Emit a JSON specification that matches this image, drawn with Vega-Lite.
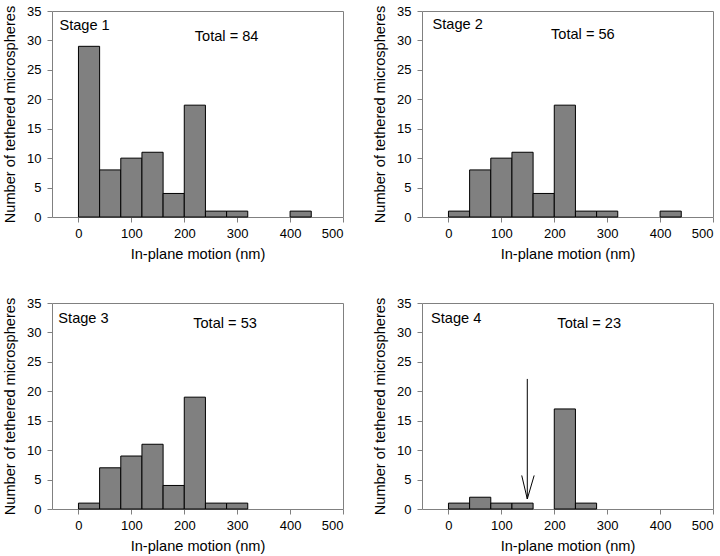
{
  "$schema": "https://vega.github.io/schema/vega-lite/v6.json",
  "padding": {"left": 2, "top": 4, "right": 5, "bottom": 5},
  "background": "white",
  "config": {
    "font": "Liberation Sans",
    "view": {"stroke": "#808080", "strokeWidth": 1},
    "axis": {"grid": false, "domain": false, "tickColor": "#808080", "tickSize": 5, "labelFontSize": 13, "labelColor": "black", "titleFontSize": 14.6, "titleFontWeight": "normal", "titleColor": "black", "labelFont": "Liberation Sans", "titleFont": "Liberation Sans", "labelOverlap": false},
    "axisY": {"titlePadding": 9, "labelPadding": 6},
    "axisX": {"titlePadding": 6, "labelPadding": 5},
    "text": {"font": "Liberation Sans", "fontSize": 14.6, "color": "black"}
  },
  "datasets": {
    "bars": [
      {"stage": 1, "lo": 0, "hi": 40, "count": 29},
      {"stage": 1, "lo": 40, "hi": 80, "count": 8},
      {"stage": 1, "lo": 80, "hi": 120, "count": 10},
      {"stage": 1, "lo": 120, "hi": 160, "count": 11},
      {"stage": 1, "lo": 160, "hi": 200, "count": 4},
      {"stage": 1, "lo": 200, "hi": 240, "count": 19},
      {"stage": 1, "lo": 240, "hi": 280, "count": 1},
      {"stage": 1, "lo": 280, "hi": 320, "count": 1},
      {"stage": 1, "lo": 400, "hi": 440, "count": 1},
      {"stage": 2, "lo": 0, "hi": 40, "count": 1},
      {"stage": 2, "lo": 40, "hi": 80, "count": 8},
      {"stage": 2, "lo": 80, "hi": 120, "count": 10},
      {"stage": 2, "lo": 120, "hi": 160, "count": 11},
      {"stage": 2, "lo": 160, "hi": 200, "count": 4},
      {"stage": 2, "lo": 200, "hi": 240, "count": 19},
      {"stage": 2, "lo": 240, "hi": 280, "count": 1},
      {"stage": 2, "lo": 280, "hi": 320, "count": 1},
      {"stage": 2, "lo": 400, "hi": 440, "count": 1},
      {"stage": 3, "lo": 0, "hi": 40, "count": 1},
      {"stage": 3, "lo": 40, "hi": 80, "count": 7},
      {"stage": 3, "lo": 80, "hi": 120, "count": 9},
      {"stage": 3, "lo": 120, "hi": 160, "count": 11},
      {"stage": 3, "lo": 160, "hi": 200, "count": 4},
      {"stage": 3, "lo": 200, "hi": 240, "count": 19},
      {"stage": 3, "lo": 240, "hi": 280, "count": 1},
      {"stage": 3, "lo": 280, "hi": 320, "count": 1},
      {"stage": 4, "lo": 0, "hi": 40, "count": 1},
      {"stage": 4, "lo": 40, "hi": 80, "count": 2},
      {"stage": 4, "lo": 80, "hi": 120, "count": 1},
      {"stage": 4, "lo": 120, "hi": 160, "count": 1},
      {"stage": 4, "lo": 200, "hi": 240, "count": 17},
      {"stage": 4, "lo": 240, "hi": 280, "count": 1}
    ],
    "labels": [
      {"stage": 1, "kind": "stage", "lo": -36, "count": 32.4, "text": "Stage 1"},
      {"stage": 1, "kind": "total", "lo": 280, "count": 30.5, "text": "Total = 84"},
      {"stage": 2, "kind": "stage", "lo": -30, "count": 32.6, "text": "Stage 2"},
      {"stage": 2, "kind": "total", "lo": 254, "count": 30.9, "text": "Total = 56"},
      {"stage": 3, "kind": "stage", "lo": -38, "count": 32.3, "text": "Stage 3"},
      {"stage": 3, "kind": "total", "lo": 277, "count": 31.4, "text": "Total = 53"},
      {"stage": 4, "kind": "stage", "lo": -33, "count": 32.2, "text": "Stage 4"},
      {"stage": 4, "kind": "total", "lo": 266, "count": 31.4, "text": "Total = 23"}
    ],
    "arrow": [
      {"lo": 149, "count": 22.1, "hi": 149, "end": 1.7},
      {"lo": 138.5, "count": 5.7, "hi": 149, "end": 1.7},
      {"lo": 162, "count": 5.7, "hi": 149, "end": 1.7}
    ]
  },
  "columns": 2,
  "spacing": {"column": 79, "row": 86},
  "bounds": "flush",
  "concat": [
    {
      "width": 291, "height": 206,
      "encoding": {
        "x": {"field": "lo", "type": "quantitative", "scale": {"domain": [-50, 500], "nice": false}, "axis": {"values": [0, 100, 200, 300, 400, 500], "title": "In-plane motion (nm)"}},
        "y": {"field": "count", "type": "quantitative", "scale": {"domain": [0, 35], "nice": false}, "axis": {"values": [0, 5, 10, 15, 20, 25, 30, 35], "title": "Number of tethered microspheres"}}
      },
      "layer": [
        {
          "data": {"name": "bars"},
          "transform": [{"filter": "datum.stage === 1"}],
          "mark": {"type": "bar", "fill": "#808080", "stroke": "black", "strokeWidth": 1},
          "encoding": {"x2": {"field": "hi"}, "y2": {"datum": 0}}
        },
        {
          "data": {"name": "labels"},
          "transform": [{"filter": "datum.stage === 1 && datum.kind === 'stage'"}],
          "mark": {"type": "text", "align": "left", "baseline": "middle"},
          "encoding": {"text": {"field": "text"}}
        },
        {
          "data": {"name": "labels"},
          "transform": [{"filter": "datum.stage === 1 && datum.kind === 'total'"}],
          "mark": {"type": "text", "align": "center", "baseline": "middle"},
          "encoding": {"text": {"field": "text"}}
        }
      ]
    },
    {
      "width": 291, "height": 206,
      "encoding": {
        "x": {"field": "lo", "type": "quantitative", "scale": {"domain": [-50, 500], "nice": false}, "axis": {"values": [0, 100, 200, 300, 400, 500], "title": "In-plane motion  (nm)"}},
        "y": {"field": "count", "type": "quantitative", "scale": {"domain": [0, 35], "nice": false}, "axis": {"values": [0, 5, 10, 15, 20, 25, 30, 35], "title": "Number of tethered microspheres"}}
      },
      "layer": [
        {
          "data": {"name": "bars"},
          "transform": [{"filter": "datum.stage === 2"}],
          "mark": {"type": "bar", "fill": "#808080", "stroke": "black", "strokeWidth": 1},
          "encoding": {"x2": {"field": "hi"}, "y2": {"datum": 0}}
        },
        {
          "data": {"name": "labels"},
          "transform": [{"filter": "datum.stage === 2 && datum.kind === 'stage'"}],
          "mark": {"type": "text", "align": "left", "baseline": "middle"},
          "encoding": {"text": {"field": "text"}}
        },
        {
          "data": {"name": "labels"},
          "transform": [{"filter": "datum.stage === 2 && datum.kind === 'total'"}],
          "mark": {"type": "text", "align": "center", "baseline": "middle"},
          "encoding": {"text": {"field": "text"}}
        }
      ]
    },
    {
      "width": 291, "height": 206,
      "encoding": {
        "x": {"field": "lo", "type": "quantitative", "scale": {"domain": [-50, 500], "nice": false}, "axis": {"values": [0, 100, 200, 300, 400, 500], "title": "In-plane motion  (nm)"}},
        "y": {"field": "count", "type": "quantitative", "scale": {"domain": [0, 35], "nice": false}, "axis": {"values": [0, 5, 10, 15, 20, 25, 30, 35], "title": "Number of tethered microspheres"}}
      },
      "layer": [
        {
          "data": {"name": "bars"},
          "transform": [{"filter": "datum.stage === 3"}],
          "mark": {"type": "bar", "fill": "#808080", "stroke": "black", "strokeWidth": 1},
          "encoding": {"x2": {"field": "hi"}, "y2": {"datum": 0}}
        },
        {
          "data": {"name": "labels"},
          "transform": [{"filter": "datum.stage === 3 && datum.kind === 'stage'"}],
          "mark": {"type": "text", "align": "left", "baseline": "middle"},
          "encoding": {"text": {"field": "text"}}
        },
        {
          "data": {"name": "labels"},
          "transform": [{"filter": "datum.stage === 3 && datum.kind === 'total'"}],
          "mark": {"type": "text", "align": "center", "baseline": "middle"},
          "encoding": {"text": {"field": "text"}}
        }
      ]
    },
    {
      "width": 291, "height": 206,
      "encoding": {
        "x": {"field": "lo", "type": "quantitative", "scale": {"domain": [-50, 500], "nice": false}, "axis": {"values": [0, 100, 200, 300, 400, 500], "title": "In-plane motion  (nm)"}},
        "y": {"field": "count", "type": "quantitative", "scale": {"domain": [0, 35], "nice": false}, "axis": {"values": [0, 5, 10, 15, 20, 25, 30, 35], "title": "Number of tethered microspheres"}}
      },
      "layer": [
        {
          "data": {"name": "bars"},
          "transform": [{"filter": "datum.stage === 4"}],
          "mark": {"type": "bar", "fill": "#808080", "stroke": "black", "strokeWidth": 1},
          "encoding": {"x2": {"field": "hi"}, "y2": {"datum": 0}}
        },
        {
          "data": {"name": "labels"},
          "transform": [{"filter": "datum.stage === 4 && datum.kind === 'stage'"}],
          "mark": {"type": "text", "align": "left", "baseline": "middle"},
          "encoding": {"text": {"field": "text"}}
        },
        {
          "data": {"name": "labels"},
          "transform": [{"filter": "datum.stage === 4 && datum.kind === 'total'"}],
          "mark": {"type": "text", "align": "center", "baseline": "middle"},
          "encoding": {"text": {"field": "text"}}
        },
        {
          "data": {"name": "arrow"},
          "mark": {"type": "rule", "color": "black", "strokeWidth": 1},
          "encoding": {"x2": {"field": "hi"}, "y2": {"field": "end"}}
        }
      ]
    }
  ]
}
